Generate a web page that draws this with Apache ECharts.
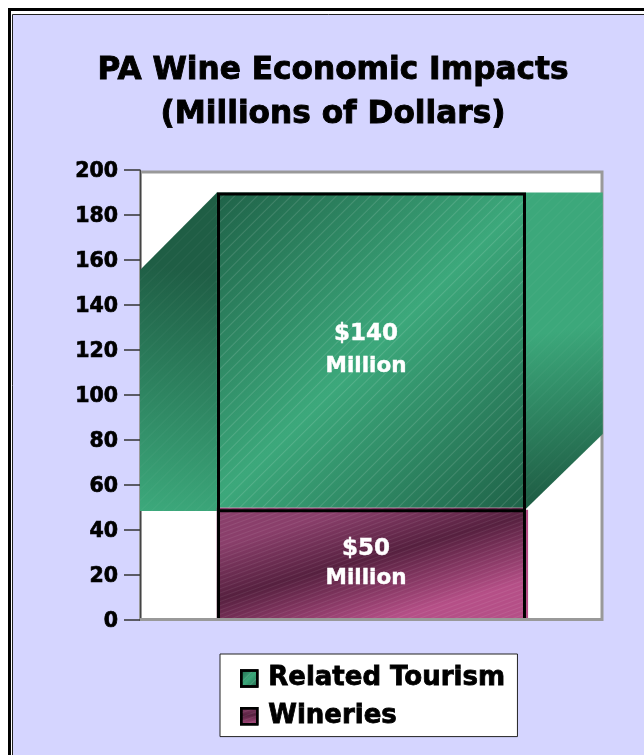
<!DOCTYPE html>
<html>
<head>
<meta charset="utf-8">
<style>html,body{margin:0;padding:0;background:#fff}#c{width:644px;height:755px}</style>
<script src="https://cdn.jsdelivr.net/npm/echarts@6/dist/echarts.min.js"></script>
</head>
<body>
<div id="c"></div>
<script>
const categories = ['PA Wine'];
const wineries = [50];
const relatedTourism = [140];
const yTicks = { min: 0, max: 200, step: 20 };
// Perspective walls either side of the column: [slot position, value] corners.
const leftWall = [[0, 155.6], [1, 190], [1, 48.5], [0, 48.5]];
const rightWall = [[5, 190], [6.01, 190], [6.01, 82.7], [5, 49]];
const wineSliver = [[5, 49], [5.04, 49], [5.04, 0], [5, 0]];
// Slot positions of the column edges on the hidden 0-6 axis.
const columnEdges = [1, 5];

const FONT = '"DejaVu Sans", sans-serif';
const grad = (x, y, x2, y2, stops) => new echarts.graphic.LinearGradient(x, y, x2, y2,
  stops.map(([offset, color]) => ({ offset, color })));

const greenFront = grad(0, 0, 1, 1, [[0, '#1f6248'], [0.5, '#3ca87b'], [1, '#1f6248']]);
const wineFront = grad(0.45, 0, 0.55, 1, [[0, '#8a3f6b'], [0.45, '#56203f'], [1, '#b54f87']]);
const greenLeft = grad(0.9, 0, 0.2, 1, [[0, '#1f5e45'], [0.25, '#1f5e45'], [1, '#3ca87b']]);
const greenRight = grad(0.1, 0.1, 0.7, 0.95, [[0, '#3ca87b'], [0.4, '#3ca87b'], [1, '#1f5e45']]);

const hatch = (rotation, gap, alpha) => ({
  symbol: 'rect', color: 'rgba(255,255,255,' + alpha + ')',
  dashArrayX: [[1, 0]], dashArrayY: [1, gap], rotation
});

// Faint diagonal strokes across a wall, clipped to its outline.
function wallHatch(pts, gap) {
  const xs = pts.map(p => p[0]), ys = pts.map(p => p[1]);
  const x0 = Math.min(...xs), x1 = Math.max(...xs), y0 = Math.min(...ys), y1 = Math.max(...ys);
  const lines = [];
  for (let c = x0 + y0; c < x1 + y1; c += gap) {
    lines.push({
      type: 'line',
      shape: { x1: c - y0, y1: y0, x2: c - y1, y2: y1 },
      style: { stroke: 'rgba(255,255,255,0.06)', lineWidth: 1 }
    });
  }
  return lines;
}

function wallSeries(corners, fill, hatched) {
  return {
    type: 'custom', xAxisIndex: 1, yAxisIndex: 0, z: 2, silent: true,
    data: [0], clip: false,
    renderItem(params, api) {
      const pts = corners.map(p => api.coord(p));
      return {
        type: 'group',
        children: [{ type: 'polygon', shape: { points: pts }, style: { fill } }].concat(
          hatched ? [{
            type: 'group',
            clipPath: { type: 'polygon', shape: { points: pts } },
            children: wallHatch(pts, 11)
          }] : [])
      };
    }
  };
}

// Black outline of one stacked segment, open along its lower edge.
function outlineSeries(from, to) {
  return {
    type: 'custom', xAxisIndex: 1, yAxisIndex: 0, z: 4, silent: true,
    data: [0], clip: false,
    renderItem(params, api) {
      const [l, b] = api.coord([columnEdges[0], from]);
      const [r, t] = api.coord([columnEdges[1], to]);
      return {
        type: 'polyline',
        shape: { points: [[l + 1.5, b], [l + 1.5, t + 1.5], [r - 0.5, t + 1.5], [r - 0.5, b]] },
        style: { stroke: '#000', lineWidth: 3, fill: null }
      };
    }
  };
}

const valueLabel = (lh) => ({
  show: true, position: 'inside', offset: [-5, 0],
  formatter: p => '{a|$' + p.value + '}\n{b|Million}',
  rich: {
    a: { fontFamily: FONT, fontWeight: 'bold', fontSize: 23, lineHeight: lh, color: '#fff',
      textBorderColor: '#fff', textBorderWidth: 0.4 },
    b: { fontFamily: FONT, fontWeight: 'bold', fontSize: 21.5, lineHeight: lh, color: '#fff',
      textBorderColor: '#fff', textBorderWidth: 0.4 }
  }
});

const legendIcon = { borderColor: '#000', borderWidth: 2.5 };

const chart = echarts.init(document.getElementById('c'), null, { renderer: 'canvas' });
chart.setOption({
  animation: false,
  backgroundColor: '#fff',
  graphic: [
    { type: 'rect', z: -10, shape: { x: 9.5, y: 9.5, width: 700, height: 800 },
      style: { fill: '#fff', stroke: '#000', lineWidth: 3 } },
    { type: 'rect', z: -9, shape: { x: 12.5, y: 14.5, width: 700, height: 800 },
      style: { fill: '#d5d5ff', stroke: '#222', lineWidth: 1 } },
    { type: 'rect', z: -8, shape: { x: 140.5, y: 172, width: 461.5, height: 447.5 },
      style: { fill: '#fff', stroke: '#999', lineWidth: 3 } },
    { type: 'line', z: 20, shape: { x1: 140, y1: 619.5, x2: 603, y2: 619.5 },
      style: { stroke: '#999', lineWidth: 3 } }
  ],
  title: {
    text: 'PA Wine Economic Impacts\n(Millions of Dollars)',
    left: 328, top: 44, textAlign: 'center',
    textStyle: { fontFamily: FONT, fontWeight: 'bold', fontSize: 31.2, lineHeight: 44, color: '#000',
      textBorderColor: '#000', textBorderWidth: 0.9 }
  },
  legend: {
    orient: 'vertical', left: 220, top: 654,
    padding: [11, 12, 7, 20], itemGap: 11, itemWidth: 16, itemHeight: 16, icon: 'rect',
    backgroundColor: '#fff', borderColor: '#222', borderWidth: 1,
    data: [
      { name: 'Related Tourism', itemStyle: legendIcon },
      { name: 'Wineries', itemStyle: legendIcon }
    ],
    textStyle: { fontFamily: FONT, fontWeight: 'bold', fontSize: 26, color: '#000',
      padding: [0, 0, 0, 6], textBorderColor: '#000', textBorderWidth: 0.8 }
  },
  grid: { left: 140, right: 42, top: 170, height: 450 },
  xAxis: [
    { type: 'category', data: categories, axisLabel: { show: false }, axisTick: { show: false },
      axisLine: { show: false } },
    { type: 'value', min: 0, max: 6, show: false }
  ],
  yAxis: {
    type: 'value', min: yTicks.min, max: yTicks.max, interval: yTicks.step,
    splitLine: { show: false },
    axisLine: { show: true, lineStyle: { color: '#444', width: 1 } },
    axisTick: { show: true, length: 16, lineStyle: { color: '#333', width: 1.5 } },
    axisLabel: { fontFamily: FONT, fontWeight: 'bold', fontSize: 20.5, color: '#000', margin: 22,
      verticalAlign: 'top', lineHeight: 4, textBorderColor: '#000', textBorderWidth: 0.7 }
  },
  series: [
    wallSeries(leftWall, greenLeft, true),
    wallSeries(rightWall, greenRight, true),
    wallSeries(wineSliver, '#b54f87', false),
    {
      name: 'Wineries', type: 'bar', stack: 'impact', barWidth: '66.8%', z: 3,
      data: wineries,
      itemStyle: { color: wineFront, decal: hatch(-Math.PI / 9, 3, 0.08) },
      label: valueLabel(29)
    },
    {
      name: 'Related Tourism', type: 'bar', stack: 'impact', barWidth: '66.8%', z: 3,
      data: relatedTourism,
      itemStyle: { color: greenFront, decal: hatch(-Math.PI / 4, 7, 0.13) },
      label: valueLabel(32)
    },
    outlineSeries(0, 190),
    outlineSeries(49.2, 49.2)
  ]
});
</script>
</body>
</html>
